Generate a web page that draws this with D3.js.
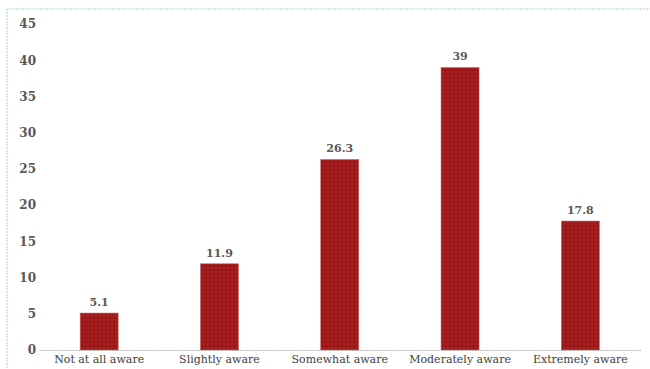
<!DOCTYPE html>
<html>
<head>
<meta charset="utf-8">
<script src="https://cdn.jsdelivr.net/npm/d3@7"></script>
<style>
  body { margin: 0; background: #fff; }
  svg { display: block; }
</style>
</head>
<body>
<svg id="chart"></svg>
<script>
// awareness levels, percent of respondents
const categories = ['Not at all aware', 'Slightly aware', 'Somewhat aware', 'Moderately aware', 'Extremely aware'];
const values = [5.1, 11.9, 26.3, 39, 17.8];
const yTicks = [0, 5, 10, 15, 20, 25, 30, 35, 40, 45];

const W = 650, H = 369;
const svg = d3.select('#chart').attr('width', W).attr('height', H);

// bar fill: dark red with a fine diamond texture
const defs = svg.append('defs');
const pat = defs.append('pattern')
    .attr('id', 'redTex')
    .attr('width', 4).attr('height', 4)
    .attr('patternUnits', 'userSpaceOnUse');
pat.append('rect').attr('width', 4).attr('height', 4).attr('fill', '#a51d1d');
pat.append('rect').attr('x', 1).attr('y', 1).attr('width', 2).attr('height', 2).attr('fill', '#8e1414');

// dotted green frame (top and left only)
svg.append('line')
    .attr('x1', 7).attr('y1', 9).attr('x2', W).attr('y2', 9)
    .attr('stroke', '#a9dfb0').attr('stroke-width', 1).attr('stroke-dasharray', '2,1');
svg.append('line')
    .attr('x1', 7).attr('y1', 9).attr('x2', 7).attr('y2', H)
    .attr('stroke', '#a9dfb0').attr('stroke-width', 1).attr('stroke-dasharray', '2,1');

const x = d3.scaleBand()
    .domain(categories)
    .range([39, 640.5])
    .paddingInner(0.684)
    .paddingOuter(0.342);

const y = d3.scaleLinear()
    .domain([0, 45])
    .range([350, 24]);

// y axis labels only (no line, no ticks)
const yAxis = svg.append('g')
    .attr('transform', 'translate(36,0)')
    .call(d3.axisLeft(y).tickValues(yTicks).tickSize(0).tickPadding(0));
yAxis.select('.domain').remove();
yAxis.selectAll('text')
    .attr('font-family', '"DejaVu Serif", serif')
    .attr('font-size', 12)
    .attr('font-weight', 'bold')
    .attr('fill', '#595959');

// bars
svg.append('g').selectAll('rect')
    .data(values)
    .join('rect')
    .attr('x', (d, i) => x(categories[i]))
    .attr('y', d => y(d))
    .attr('width', x.bandwidth())
    .attr('height', d => y(0) - y(d))
    .attr('fill', 'url(#redTex)')
    .attr('stroke', '#c96a6a')
    .attr('stroke-width', 0.6);

// x axis: dotted baseline + category labels
const xAxis = svg.append('g')
    .attr('transform', 'translate(0,' + y(0) + ')')
    .call(d3.axisBottom(x).tickSize(0).tickPadding(5));
xAxis.select('.domain')
    .attr('stroke', '#b0b0b0')
    .attr('stroke-dasharray', '2,1');
xAxis.selectAll('text')
    .attr('font-family', '"DejaVu Serif", serif')
    .attr('font-size', 11)
    .attr('fill', '#404040');

// value labels
svg.append('g').selectAll('text')
    .data(values)
    .join('text')
    .attr('x', (d, i) => x(categories[i]) + x.bandwidth() / 2)
    .attr('y', d => y(d) - 7)
    .attr('text-anchor', 'middle')
    .attr('font-family', '"DejaVu Serif", serif')
    .attr('font-size', 11)
    .attr('font-weight', 'bold')
    .attr('fill', '#595959')
    .text(d => d);
</script>
</body>
</html>
